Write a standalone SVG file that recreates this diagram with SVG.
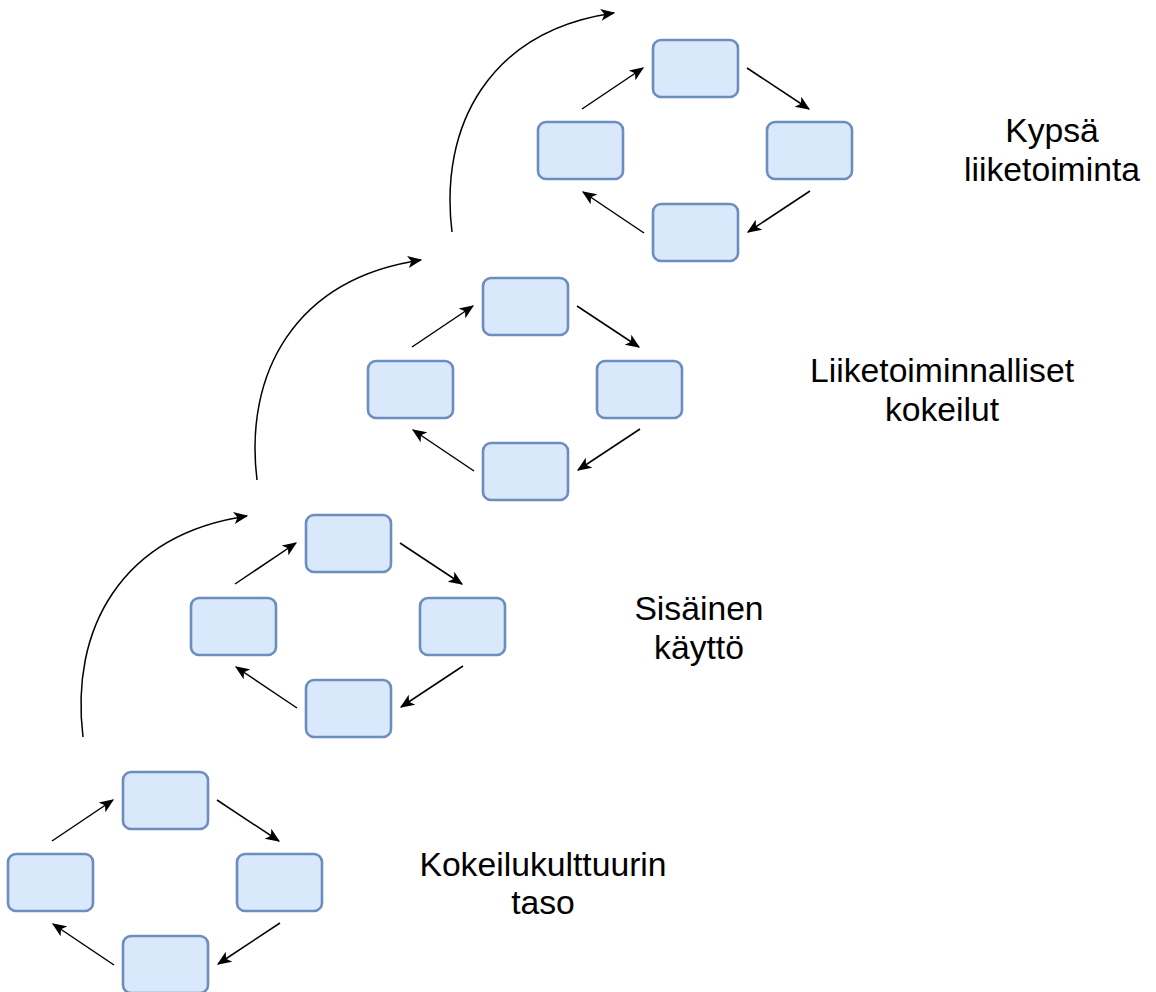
<svg xmlns="http://www.w3.org/2000/svg" width="1156" height="992" viewBox="0 0 1156 992">
<style>
.box{fill:#dae8fc;stroke:#6c8ebf;stroke-width:2.6}
.arr{fill:none;stroke:#000;stroke-width:1.5;marker-end:url(#ah)}
.lbl{font-family:"Liberation Sans",Arial,sans-serif;font-size:33.7px;fill:#000;text-anchor:middle}
</style>
<defs>
<marker id="ah" viewBox="0 0 12 10" refX="11" refY="5" markerWidth="15" markerHeight="12" markerUnits="userSpaceOnUse" orient="auto">
<path d="M0,0 L12,5 L0,10 L3,5 Z" fill="#000"/>
</marker>
</defs>
<rect width="1156" height="992" fill="#fff"/>
<g id="cluster4">
<rect id="c4-top" class="box" x="653" y="40" width="85" height="57" rx="8"/>
<rect id="c4-left" class="box" x="538" y="122" width="85" height="57" rx="8"/>
<rect id="c4-right" class="box" x="767" y="122" width="85" height="57" rx="8"/>
<rect id="c4-bottom" class="box" x="653" y="204" width="85" height="57" rx="8"/>
</g>
<g id="cluster3">
<rect id="c3-top" class="box" x="483" y="278" width="85" height="57" rx="8"/>
<rect id="c3-left" class="box" x="368" y="361" width="85" height="57" rx="8"/>
<rect id="c3-right" class="box" x="597" y="361" width="85" height="57" rx="8"/>
<rect id="c3-bottom" class="box" x="483" y="443" width="85" height="57" rx="8"/>
</g>
<g id="cluster2">
<rect id="c2-top" class="box" x="306" y="515" width="85" height="57" rx="8"/>
<rect id="c2-left" class="box" x="191" y="598" width="85" height="57" rx="8"/>
<rect id="c2-right" class="box" x="420" y="598" width="85" height="57" rx="8"/>
<rect id="c2-bottom" class="box" x="306" y="680" width="85" height="57" rx="8"/>
</g>
<g id="cluster1">
<rect id="c1-top" class="box" x="123" y="772" width="85" height="57" rx="8"/>
<rect id="c1-left" class="box" x="8" y="854" width="85" height="57" rx="8"/>
<rect id="c1-right" class="box" x="237" y="854" width="85" height="57" rx="8"/>
<rect id="c1-bottom" class="box" x="123" y="936" width="85" height="57" rx="8"/>
</g>
<g id="connectors">
<line class="arr" x1="582" y1="109" x2="643" y2="68"/>
<line class="arr" x1="747" y1="68" x2="809" y2="109"/>
<line class="arr" x1="810" y1="191" x2="748" y2="232"/>
<line class="arr" x1="644" y1="233" x2="583" y2="192"/>

<line class="arr" x1="412" y1="347" x2="473" y2="306"/>
<line class="arr" x1="577" y1="306" x2="639" y2="347"/>
<line class="arr" x1="640" y1="429" x2="578" y2="470"/>
<line class="arr" x1="474" y1="471" x2="413" y2="430"/>

<line class="arr" x1="235" y1="584" x2="296" y2="543"/>
<line class="arr" x1="400" y1="543" x2="462" y2="584"/>
<line class="arr" x1="463" y1="666" x2="401" y2="707"/>
<line class="arr" x1="297" y1="708" x2="236" y2="667"/>

<line class="arr" x1="52" y1="841" x2="113" y2="800"/>
<line class="arr" x1="217" y1="800" x2="279" y2="841"/>
<line class="arr" x1="280" y1="923" x2="218" y2="964"/>
<line class="arr" x1="114" y1="965" x2="53" y2="924"/>

<path class="arr" d="M83,737 C70,630 120,535 247,516"/>
<path class="arr" d="M257,480 C244,374 294,279 421,260"/>
<path class="arr" d="M452,232 C439,126 489,31 614,13"/>
</g>
<g id="labels">
<text class="lbl" x="1052" y="142">Kypsä</text>
<text class="lbl" x="1052" y="181">liiketoiminta</text>
<text class="lbl" x="942" y="382">Liiketoiminnalliset</text>
<text class="lbl" x="942" y="421">kokeilut</text>
<text class="lbl" x="699" y="620">Sisäinen</text>
<text class="lbl" x="699" y="659">käyttö</text>
<text class="lbl" x="543" y="876">Kokeilukulttuurin</text>
<text class="lbl" x="543" y="914">taso</text>
</g>
</svg>
